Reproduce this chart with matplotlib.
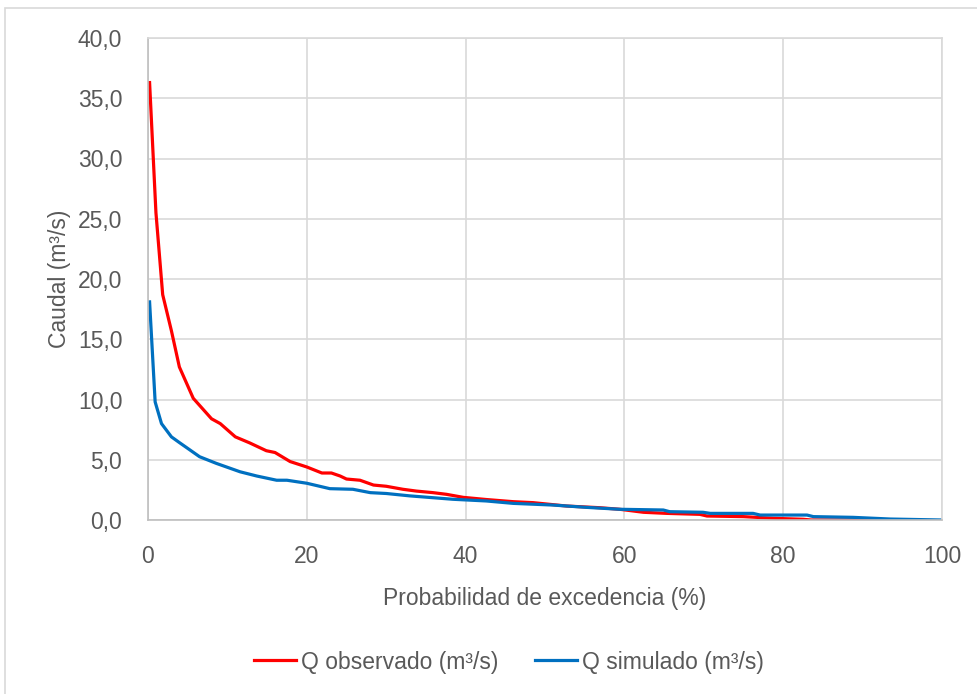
import matplotlib
matplotlib.use("Agg")
import matplotlib.pyplot as plt
from matplotlib.patches import Rectangle
from matplotlib.ticker import FuncFormatter

plt.rcParams['font.family'] = ['Liberation Sans', 'DejaVu Sans']

# Observed flow duration curve
obs_x = [0.2, 1.0, 1.85, 2.95, 3.95, 5.7, 8.0, 9.1, 11.0, 12.8, 14.9, 16.0, 17.9, 20.0,
         21.9, 23.1, 24.2, 25.0, 26.7, 28.4, 30.0, 32.1, 33.8, 35.9, 37.6, 39.7, 42.6,
         46.0, 48.5, 52.7, 56.9, 59.4, 62.4, 65.3, 69.5, 70.4, 75.0, 78.8, 82.5, 83.5, 93.5]
obs_y = [36.3, 25.5, 18.7, 15.7, 12.7, 10.1, 8.4, 8.0, 6.9, 6.4, 5.75, 5.6, 4.85, 4.4,
         3.9, 3.9, 3.65, 3.4, 3.3, 2.9, 2.8, 2.55, 2.4, 2.27, 2.13, 1.88, 1.7,
         1.52, 1.44, 1.16, 1.02, 0.89, 0.64, 0.55, 0.47, 0.33, 0.28, 0.14, 0.06, 0.0, 0.0]

# Simulated flow duration curve
sim_x = [0.2, 0.9, 1.7, 2.95, 3.9, 4.66, 6.5, 8.6, 11.6, 13.7, 16.2, 17.5, 20.0, 22.9, 25.8,
         28.0, 30.0, 33.0, 35.9, 38.4, 42.6, 46.0, 51.0, 55.2, 59.4, 64.9, 65.7, 69.9,
         70.8, 76.2, 77.1, 83.0, 83.8, 88.8, 93.5, 100.0]
sim_y = [18.1, 9.8, 8.0, 6.9, 6.45, 6.1, 5.25, 4.7, 4.0, 3.65, 3.3, 3.3, 3.05, 2.6, 2.55,
         2.27, 2.2, 2.0, 1.85, 1.72, 1.58, 1.38, 1.24, 1.05, 0.89, 0.83, 0.69, 0.64,
         0.55, 0.55, 0.41, 0.41, 0.28, 0.22, 0.08, 0.0]

x_ticks = [0, 20, 40, 60, 80, 100]
y_ticks = [0, 5, 10, 15, 20, 25, 30, 35, 40]

TXT = '#595959'
GRID = '#d9d9d9'
FS = 16.5

fig = plt.figure(figsize=(9.77, 6.94), dpi=100)
ax = fig.add_axes([148/977, 1-520/694, (942-148)/977, (520-38)/694])

ax.plot(obs_x, obs_y, color='#ff0000', lw=2.3, label='Q observado (m³/s)', solid_joinstyle='round')
ax.plot(sim_x, sim_y, color='#0070c0', lw=2.3, label='Q simulado (m³/s)', solid_joinstyle='round')

ax.set_xlim(0, 100)
ax.set_ylim(0, 40)
ax.set_xticks(x_ticks)
ax.set_yticks(y_ticks)
ax.yaxis.set_major_formatter(FuncFormatter(lambda v, p: f"{v:.1f}".replace('.', ',')))
ax.grid(True, color=GRID, lw=1.2)
ax.set_axisbelow(True)
for s in ['top', 'right']:
    ax.spines[s].set_color(GRID)
    ax.spines[s].set_linewidth(1.2)
for s in ['left', 'bottom']:
    ax.spines[s].set_color('#bfbfbf')
    ax.spines[s].set_linewidth(1.2)
ax.tick_params(length=0, colors=TXT, labelsize=FS)
ax.tick_params(axis='y', pad=18.5)
ax.tick_params(axis='x', pad=18)

ax.set_xlabel('Probabilidad de excedencia (%)', color=TXT, fontsize=FS, labelpad=14)
ax.set_ylabel('Caudal (m³/s)', color=TXT, fontsize=FS, labelpad=5)

leg = fig.legend(loc='center', bbox_to_anchor=(509/977, 1-662/694), ncol=2, frameon=False,
                 fontsize=FS, handlelength=1.85, handletextpad=0.2, columnspacing=1.6)
for t in leg.get_texts():
    t.set_color(TXT)

fig.patches.append(Rectangle((5/977, -0.1), 2.0, 1-8/694+0.1, transform=fig.transFigure,
                             fill=False, edgecolor=GRID, lw=1.2))

fig.savefig('out.png', dpi=100)
